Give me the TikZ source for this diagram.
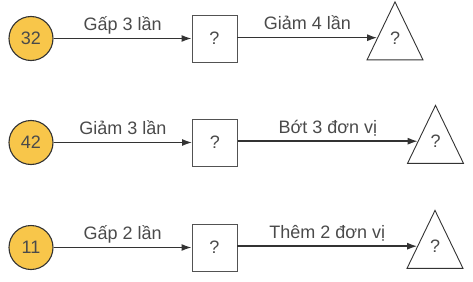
\documentclass[tikz,border=0pt]{standalone}
\usepackage{fontspec}
\setmainfont{Liberation Sans}
\usetikzlibrary{arrows.meta, shapes.geometric, calc}

\definecolor{numfill}{HTML}{F8C64A}
\definecolor{linegray}{HTML}{333333}
\definecolor{textgray}{HTML}{4A4A4A}

\begin{document}
\begin{tikzpicture}[x=1pt, y=-1pt,
  txt/.style={text=textgray, font=\fontsize{18}{20}\selectfont},
  startnum/.style={circle, draw=linegray, fill=numfill, line width=1.1pt,
    minimum size=44pt, inner sep=0pt, txt},
  qbox/.style={rectangle, draw=linegray!85, line width=0.9pt,
    minimum width=45pt, minimum height=47pt, inner sep=0pt, txt},
  qtri/.style={isosceles triangle, shape border rotate=90,
    isosceles triangle stretches, minimum width=56pt, minimum height=58pt,
    inner sep=0pt, draw=linegray, line width=0.9pt, txt,
    text height=10pt, text depth=0pt},
  flow/.style={draw=linegray, line width=1.4pt, -{Latex[length=10pt, width=7pt]}},
  steplabel/.style={midway, anchor=base, yshift=8pt, txt}]

  \useasboundingbox (0,0) rectangle (473,281);

  % -- Row 1 --
  \node[startnum] (c1) at (31, 38.5) {32};
  \node[qbox] (b1) at (214.5, 38.5) {?};
  \node[qtri] (t1) at (395, 43.5) {\raisebox{4.5pt}{?}};
  \coordinate (e1) at ($(t1.apex)!0.62!(t1.left corner)$);
  \draw[flow] (c1) -- (b1) node[steplabel] {Gấp 3 lần};
  \draw[flow] (b1.east |- e1) -- (e1) node[steplabel] {Giảm 4 lần};

  % -- Row 2 --
  \node[startnum] (c2) at (31, 142.5) {42};
  \node[qbox] (b2) at (215, 142.5) {?};
  \node[qtri] (t2) at (435.5, 147) {\raisebox{4.5pt}{?}};
  \coordinate (e2) at ($(t2.apex)!0.62!(t2.left corner)$);
  \draw[flow] (c2) -- (b2) node[steplabel] {Giảm 3 lần};
  \draw[flow] (b2.east |- e2) -- (e2) node[steplabel] {Bớt 3 đơn vị};

  % -- Row 3 --
  \node[startnum] (c3) at (31, 247.5) {11};
  \node[qbox] (b3) at (214.5, 247.5) {?};
  \node[qtri] (t3) at (435, 252) {\raisebox{4.5pt}{?}};
  \coordinate (e3) at ($(t3.apex)!0.62!(t3.left corner)$);
  \draw[flow] (c3) -- (b3) node[steplabel] {Gấp 2 lần};
  \draw[flow] (b3.east |- e3) -- (e3) node[steplabel] {Thêm 2 đơn vị};

\end{tikzpicture}
\end{document}
